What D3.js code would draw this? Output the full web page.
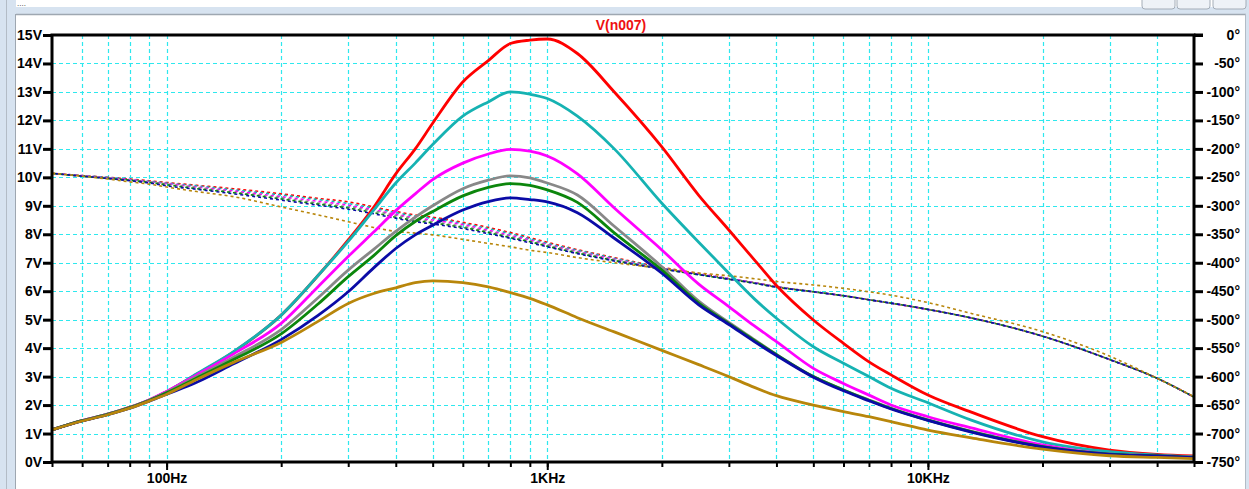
<!DOCTYPE html>
<html>
<head>
<meta charset="utf-8">
<script src="https://cdn.jsdelivr.net/npm/d3@7"></script>
<style>
  html, body { margin: 0; padding: 0; background: #fff; overflow: hidden; }
  svg { display: block; }
</style>
</head>
<body>
<svg id="plot" width="1249" height="489"></svg>
<script>
// Frequency points of the AC sweep (Hz)
const freqHz = [50,60,70,80,90,100,120,150,200,250,300,350,400,450,500,600,700,800,900,1000,1200,1500,2000,2500,3000,3500,4000,5000,6000,7000,8000,10000,13000,20000,30000,40000,50000];

// Magnitude of V(n007) for each stepped run (V)
const magRed     = [1.13,1.45,1.68,1.92,2.18,2.47,3.08,3.87,5.16,6.55,7.8,8.95,10.12,11.0,11.9,13.35,14.1,14.7,14.82,14.86,14.35,13.0,11.07,9.37,8.15,7.1,6.2,4.99,4.17,3.52,3.06,2.35,1.75,0.89,0.42,0.27,0.21];
const magTeal    = [1.13,1.45,1.68,1.92,2.18,2.47,3.1,3.88,5.16,6.55,7.75,8.85,9.8,10.5,11.15,12.15,12.65,13.0,12.92,12.77,12.15,11.0,9.09,7.72,6.63,5.73,5.05,4.05,3.47,3.0,2.59,2.08,1.47,0.71,0.36,0.24,0.18];
const magMagenta = [1.13,1.45,1.68,1.92,2.18,2.48,3.06,3.8,4.87,6.16,7.22,8.08,8.83,9.42,9.92,10.5,10.82,10.98,10.92,10.75,10.12,8.92,7.45,6.25,5.46,4.78,4.23,3.29,2.76,2.35,2.0,1.59,1.2,0.6,0.28,0.22,0.16];
const magGray    = [1.13,1.45,1.68,1.92,2.17,2.45,3.0,3.68,4.65,5.77,6.74,7.47,8.1,8.6,9.0,9.6,9.9,10.05,9.98,9.8,9.38,8.28,6.86,5.65,4.9,4.3,3.78,3.0,2.53,2.18,1.89,1.48,1.08,0.54,0.28,0.22,0.16];
const magGreen   = [1.13,1.45,1.67,1.91,2.16,2.43,2.95,3.6,4.5,5.55,6.51,7.25,7.95,8.45,8.8,9.35,9.65,9.78,9.72,9.56,9.12,8.05,6.74,5.58,4.86,4.27,3.77,3.0,2.53,2.17,1.88,1.47,1.07,0.54,0.28,0.22,0.16];
const magBlue    = [1.13,1.44,1.66,1.89,2.14,2.38,2.8,3.45,4.3,5.15,5.98,6.82,7.5,7.98,8.32,8.85,9.15,9.28,9.22,9.14,8.76,7.86,6.63,5.52,4.83,4.23,3.74,2.98,2.5,2.15,1.86,1.46,1.05,0.53,0.27,0.21,0.15];
const magBrown   = [1.13,1.44,1.66,1.89,2.14,2.38,2.9,3.5,4.2,4.94,5.57,5.92,6.12,6.3,6.36,6.3,6.15,5.95,5.75,5.52,5.07,4.57,3.92,3.42,3.0,2.62,2.33,2.0,1.77,1.59,1.42,1.12,0.85,0.45,0.22,0.16,0.12];

// Phase of V(n007) for each stepped run (degrees)
const phRed     = [-243,-247,-250,-253,-256,-259,-264,-270,-279,-287,-293,-302,-310,-316,-320,-329,-338,-347,-356,-364,-377,-391,-408,-419,-428,-435,-442,-451,-458,-465,-471,-482,-497,-529,-570,-603,-636];
const phTeal    = [-243,-247,-250,-254,-257,-260,-265,-272,-281,-289,-296,-304,-312,-318,-322,-331,-340,-349,-358,-366,-378,-392,-409,-420,-428,-435,-442,-451,-458,-465,-471,-482,-497,-529,-570,-603,-636];
const phMagenta = [-243,-247,-251,-254,-258,-261,-267,-274,-284,-292,-299,-307,-315,-321,-325,-333,-343,-352,-360,-368,-380,-394,-410,-420,-428,-435,-442,-451,-458,-465,-471,-482,-497,-529,-570,-603,-636];
const phGray    = [-243,-248,-251,-255,-258,-262,-268,-276,-286,-295,-302,-309,-317,-323,-328,-336,-345,-354,-362,-369,-381,-395,-410,-421,-429,-436,-442,-451,-458,-465,-471,-482,-497,-529,-570,-603,-636];
const phGreen   = [-243,-248,-252,-255,-259,-263,-270,-277,-288,-297,-304,-312,-320,-326,-330,-338,-347,-356,-363,-371,-383,-396,-411,-421,-429,-436,-443,-451,-458,-465,-471,-482,-497,-529,-570,-603,-636];
const phBlue    = [-243,-248,-252,-256,-260,-265,-271,-279,-290,-299,-306,-314,-322,-328,-332,-340,-349,-357,-365,-372,-384,-397,-411,-421,-429,-436,-443,-451,-458,-465,-471,-482,-497,-529,-570,-603,-636];
const phBrown   = [-243,-248,-253,-258,-262,-267,-275,-284,-302,-316,-328,-338,-345,-348,-351,-359,-366,-372,-378,-382,-391,-400,-410,-418,-423,-428,-433,-439,-445,-451,-457,-470,-489,-521,-564,-603,-635];

// Axis tick labels
const voltTicks  = [0,1,2,3,4,5,6,7,8,9,10,11,12,13,14,15];
const phaseTicks = [0,-50,-100,-150,-200,-250,-300,-350,-400,-450,-500,-550,-600,-650,-700,-750];
const freqLabelValues = [100, 1000, 10000];
const freqLabelText   = ["100Hz", "1KHz", "10KHz"];
const traceName = "V(n007)";

// Trace colours and the data that goes with each
const traces = [
  { color: "#ff0000", mag: magRed,     ph: phRed,     off: 0 },
  { color: "#16b2b2", mag: magTeal,    ph: phTeal,    off: 1 },
  { color: "#ff00ff", mag: magMagenta, ph: phMagenta, off: 2 },
  { color: "#888888", mag: magGray,    ph: phGray,    off: 3 },
  { color: "#0c860c", mag: magGreen,   ph: phGreen,   off: 4 },
  { color: "#0b0ba6", mag: magBlue,    ph: phBlue,    off: 2.5 },
  { color: "#b8860b", mag: magBrown,   ph: phBrown,   off: 0 }
];

const W = 1249, H = 489;
const L = 52, R = 1194, T = 35, B = 462;
const FONT = "'Liberation Sans', Arial, sans-serif";

const svg = d3.select("#plot");

// ---- window frame around the plot pane ----
svg.append("rect").attr("x", 0).attr("y", 0).attr("width", W).attr("height", H).attr("fill", "#ffffff");
svg.append("rect").attr("x", 0).attr("y", 7).attr("width", W).attr("height", 7).attr("fill", "#d7e3f0");
svg.append("line").attr("x1", 0).attr("x2", W).attr("y1", 14.5).attr("y2", 14.5).attr("stroke", "#9ea7b1").attr("stroke-width", 1.5);
svg.append("rect").attr("x", 0).attr("y", 0).attr("width", 16).attr("height", H).attr("fill", "#d7e3f0");
svg.append("line").attr("x1", 6.5).attr("x2", 6.5).attr("y1", 0).attr("y2", H).attr("stroke", "#b3bcc6");
svg.append("line").attr("x1", 15.5).attr("x2", 15.5).attr("y1", 14).attr("y2", H).attr("stroke", "#9ea7b1");
svg.append("rect").attr("x", 1246).attr("y", 0).attr("width", 3).attr("height", H).attr("fill", "#d7e3f0");
svg.append("line").attr("x1", 1245.5).attr("x2", 1245.5).attr("y1", 14).attr("y2", H).attr("stroke", "#b3bcc6");
[[1142, 33], [1177, 33], [1213, 33]].forEach(([bx, bw]) => {
  svg.append("rect").attr("x", bx).attr("y", -6).attr("width", bw).attr("height", 15)
    .attr("rx", 3).attr("fill", "#eef2f7").attr("stroke", "#a4adb7");
});
svg.append("text").attr("x", 17).attr("y", 6).attr("font-family", FONT).attr("font-size", 8)
  .attr("fill", "#333").text("....");

// ---- scales ----
const x = d3.scaleLog().domain([50, 50000]).range([L, R]);
const yV = d3.scaleLinear().domain([0, 15]).range([B, T]);
const yP = d3.scaleLinear().domain([-750, 0]).range([B, T]);

// ---- grid ----
const grid = svg.append("g").attr("stroke", "#2ee8ee").attr("stroke-width", 1.2)
  .attr("stroke-dasharray", "4,3").attr("fill", "none");
x.ticks().filter(f => f > 50 && f < 50000).forEach(f => {
  grid.append("line").attr("x1", Math.round(x(f)) + 0.5).attr("x2", Math.round(x(f)) + 0.5)
    .attr("y1", T).attr("y2", B);
});
voltTicks.filter(v => v > 0 && v < 15).forEach(v => {
  grid.append("line").attr("x1", L).attr("x2", R)
    .attr("y1", Math.round(yV(v)) + 0.5).attr("y2", Math.round(yV(v)) + 0.5);
});

// ---- traces ----
svg.append("clipPath").attr("id", "pane").append("rect")
  .attr("x", L).attr("y", T).attr("width", R - L).attr("height", B - T);
const traceLayer = svg.append("g").attr("clip-path", "url(#pane)");

const magLine = d3.line().x((d, i) => x(freqHz[i])).y(d => yV(d)).curve(d3.curveMonotoneX);
const phLine = d3.line().x((d, i) => x(freqHz[i])).y(d => yP(d)).curve(d3.curveMonotoneX);

traces.forEach(t => {
  traceLayer.append("path").attr("d", phLine(t.ph)).attr("fill", "none")
    .attr("stroke", t.color).attr("stroke-width", 1.6)
    .attr("stroke-dasharray", "3,3").attr("stroke-dashoffset", t.off);
});
traces.forEach(t => {
  traceLayer.append("path").attr("d", magLine(t.mag)).attr("fill", "none")
    .attr("stroke", t.color).attr("stroke-width", 2.8)
    .attr("stroke-linejoin", "round").attr("stroke-linecap", "round");
});

// ---- axes ----
function styleAxis(g) {
  g.select(".domain").remove();
  g.selectAll(".tick line").attr("stroke", "#000");
  g.selectAll(".tick text").attr("fill", "#000").attr("font-family", FONT)
    .attr("font-size", 14).attr("font-weight", "bold");
}

const leftAxis = svg.append("g").attr("transform", `translate(${L},0)`)
  .call(d3.axisLeft(yV).tickValues(voltTicks).tickFormat(d => d + "V").tickSize(9).tickPadding(1));
styleAxis(leftAxis);
leftAxis.selectAll(".tick line").attr("stroke-width", 3);

const rightAxis = svg.append("g").attr("transform", `translate(${R},0)`)
  .call(d3.axisRight(yP).tickValues(phaseTicks).tickFormat(d => d + "°").tickSize(9));
styleAxis(rightAxis);
rightAxis.selectAll(".tick line").attr("stroke-width", 3);
rightAxis.selectAll(".tick text").attr("text-anchor", "end").attr("x", 1240 - R);

const bottomAxis = svg.append("g").attr("transform", `translate(0,${B})`)
  .call(d3.axisBottom(x).tickValues(x.ticks()).tickFormat("").tickSize(5));
styleAxis(bottomAxis);
bottomAxis.selectAll(".tick line").attr("stroke-width", 2);

const labelAxis = svg.append("g").attr("transform", `translate(0,${B})`)
  .call(d3.axisBottom(x).tickValues(freqLabelValues)
    .tickFormat((d, i) => freqLabelText[i]).tickSize(8).tickPadding(3));
styleAxis(labelAxis);
labelAxis.selectAll(".tick line").attr("stroke-width", 2);

// ---- plot frame ----
svg.append("rect").attr("x", L).attr("y", T).attr("width", R - L).attr("height", B - T)
  .attr("fill", "none").attr("stroke", "#000").attr("stroke-width", 3);
svg.append("line").attr("x1", R).attr("x2", R + 9).attr("y1", T).attr("y2", T)
  .attr("stroke", "#000").attr("stroke-width", 3);

// ---- trace name ----
svg.append("text").attr("x", 621).attr("y", 30).attr("text-anchor", "middle")
  .attr("font-family", FONT).attr("font-size", 14).attr("font-weight", "bold")
  .attr("fill", "#ee1111").text(traceName);
</script>
</body>
</html>
